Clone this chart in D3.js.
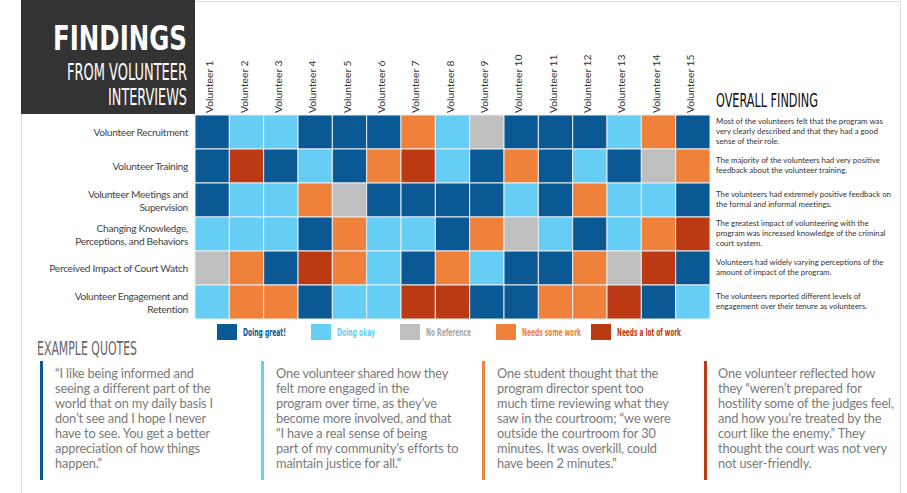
<!DOCTYPE html>
<html><head><meta charset="utf-8">
<script src="https://cdn.jsdelivr.net/npm/d3@7"></script>
<style>body{margin:0;background:#fff}svg{display:block}</style>
</head><body><svg id="c" width="907" height="493"></svg>
<script>
const volunteers = ["Volunteer 1","Volunteer 2","Volunteer 3","Volunteer 4","Volunteer 5","Volunteer 6","Volunteer 7","Volunteer 8","Volunteer 9","Volunteer 10","Volunteer 11","Volunteer 12","Volunteer 13","Volunteer 14","Volunteer 15"];
const categories = ["Volunteer Recruitment","Volunteer Training","Volunteer Meetings and Supervision","Changing Knowledge, Perceptions, and Behaviors","Perceived Impact of Court Watch","Volunteer Engagement and Retention"];
const categoryLines = [["Volunteer Recruitment"],["Volunteer Training"],["Volunteer Meetings and","Supervision"],["Changing Knowledge,","Perceptions, and Behaviors"],["Perceived Impact of Court Watch"],["Volunteer Engagement and","Retention"]];
const levels = ["Doing great!","Doing okay","No Reference","Needs some work","Needs a lot of work"];
const levelColors = ["#0a5894","#66cef5","#bfbfbf","#f0813b","#bb3a14"];
const legendTextColors = ["#0a5894","#66cef5","#a8a8a8","#f0813b","#bb3a14"];
// 0 great, 1 okay, 2 no reference, 3 some work, 4 lot of work
const ratings = [
 [0,1,1,0,0,0,3,1,2,0,0,0,1,3,0],
 [0,4,0,1,0,3,4,1,0,3,0,1,0,2,3],
 [0,1,1,3,2,0,0,0,0,1,0,3,1,1,0],
 [1,1,1,0,3,1,1,0,3,2,1,0,1,3,4],
 [2,3,0,4,3,1,0,3,1,0,0,3,2,4,0],
 [1,3,3,0,1,1,4,4,0,0,3,3,4,0,1]
];
const findings = [
 ["Most of the volunteers felt that the program was","very clearly described and that they had a good","sense of their role."],
 ["The majority of the volunteers had very positive","feedback about the volunteer training."],
 ["The volunteers had extremely positive feedback on","the formal and informal meetings."],
 ["The greatest impact of volunteering with the","program was increased knowledge of the criminal","court system."],
 ["Volunteers had widely varying perceptions of the","amount of impact of the program."],
 ["The volunteers reported different levels of","engagement over their tenure as volunteers."]
];
const quotes = [
 ["\u201CI like being informed and","seeing a different part of the","world that on my daily basis I","don\u2019t see and I hope I never","have to see. You get a better","appreciation of how things","happen.\u201D"],
 ["One volunteer shared how they","felt more engaged in the","program over time, as they\u2019ve","become more involved, and that","\u201CI have a real sense of being","part of my community\u2019s efforts to","maintain justice for all.\u201D"],
 ["One student thought that the","program director spent too","much time reviewing what they","saw in the courtroom; \u201Cwe were","outside the courtroom for 30","minutes. It was overkill, could","have been 2 minutes.\u201D"],
 ["One volunteer reflected how","they \u201Cweren\u2019t prepared for","hostility some of the judges feel,","and how you\u2019re treated by the","court like the enemy.\u201D They","thought the court was not very","not user-friendly."]
];
const quoteLevels = [0,1,3,4];

const svg = d3.select("#c");
const body = "Lato, 'Open Sans', sans-serif";
const cond = "'Liberation Sans Narrow', 'DejaVu Sans Condensed', sans-serif";

// frame
svg.append("rect").attr("x",21.5).attr("y",1.5).attr("width",879).attr("height",520)
  .attr("fill","none").attr("stroke","#dcdcdc");

// title box
svg.append("rect").attr("x",21).attr("y",0).attr("width",174).attr("height",114).attr("fill","#333333");
svg.append("text").attr("x",187).attr("y",50).attr("text-anchor","end").attr("fill","#fff")
  .style("font-family",cond).style("font-weight","bold").style("font-size","33px")
  .attr("textLength",134).attr("lengthAdjust","spacingAndGlyphs").text("FINDINGS");
svg.append("text").attr("x",187).attr("y",80).attr("text-anchor","end").attr("fill","#fff")
  .style("font-family",cond).style("font-size","23px")
  .attr("textLength",120).attr("lengthAdjust","spacingAndGlyphs").text("FROM VOLUNTEER");
svg.append("text").attr("x",187).attr("y",105).attr("text-anchor","end").attr("fill","#fff")
  .style("font-family",cond).style("font-size","23px")
  .attr("textLength",79).attr("lengthAdjust","spacingAndGlyphs").text("INTERVIEWS");

const x = d3.scaleBand().domain(volunteers).range([195,710]);
const y = d3.scaleBand().domain(categories).range([115,319]);
const color = d3.scaleOrdinal().domain(d3.range(levels.length)).range(levelColors);

// cells
const cells = [];
ratings.forEach((row,i)=>row.forEach((v,j)=>cells.push({c:categories[i],v:volunteers[j],r:v})));
svg.append("g").selectAll("rect").data(cells).join("rect")
  .attr("x",d=>x(d.v)).attr("y",d=>y(d.c))
  .attr("width",x.bandwidth()).attr("height",y.bandwidth())
  .attr("fill",d=>color(d.r)).attr("stroke","#e8eef2").attr("stroke-width",1);

// column axis
const xAxis = svg.append("g").attr("transform","translate(0,113)")
  .call(d3.axisTop(x).tickSize(0).tickSizeOuter(0));
xAxis.select(".domain").remove();
xAxis.selectAll(".tick line").remove();
xAxis.selectAll(".tick text")
  .attr("transform","rotate(-90)").attr("x",0).attr("y",0).attr("dx",0).attr("dy","0.1em")
  .attr("text-anchor","start").attr("fill","#333")
  .style("font-family",body).style("font-size","10.3px");

// row labels
const rowG = svg.append("g");
categoryLines.forEach((lines,i)=>{
  const cy = y(categories[i]) + y.bandwidth()/2;
  const n = lines.length;
  lines.forEach((ln,k)=>{
    rowG.append("text").attr("x",188).attr("y",cy - (n-1)*6.5 + k*13 + 4)
      .attr("text-anchor","end").attr("fill","#444")
      .style("font-family",body).style("font-size","10.2px").style("letter-spacing","-0.3px").text(ln);
  });
});

// overall findings
svg.append("text").attr("x",716).attr("y",107).attr("fill","#111")
  .style("font-family",cond).style("font-size","19px")
  .attr("textLength",102).attr("lengthAdjust","spacingAndGlyphs").text("OVERALL FINDING");
findings.forEach((lines,i)=>{
  const cy = y(categories[i]) + y.bandwidth()/2;
  const n = lines.length;
  lines.forEach((ln,k)=>{
    svg.append("text").attr("x",716).attr("y",cy - (n-1)*5 + k*10 + 1.5)
      .attr("fill","#333").style("font-family",body).style("font-size","7.85px").text(ln);
  });
});

// legend
const legX = [217,311,400,496,591];
const legW = [43,38,45,59,64];
levels.forEach((l,i)=>{
  svg.append("rect").attr("x",legX[i]).attr("y",324).attr("width",20).attr("height",16).attr("fill",levelColors[i]);
  svg.append("text").attr("x",legX[i]+26).attr("y",336).attr("fill",legendTextColors[i])
    .style("font-family",cond).style("font-weight","bold").style("font-size","11px")
    .attr("textLength",legW[i]).attr("lengthAdjust","spacingAndGlyphs").text(l);
});

// quotes
svg.append("text").attr("x",37).attr("y",355).attr("fill","#666")
  .style("font-family",cond).style("font-size","19px")
  .attr("textLength",100).attr("lengthAdjust","spacingAndGlyphs").text("EXAMPLE QUOTES");
const qBarX = [40,261,482,704];
const qTextX = [55,276,497,718];
quotes.forEach((lines,i)=>{
  svg.append("rect").attr("x",qBarX[i]).attr("y",361).attr("width",3).attr("height",119).attr("fill",levelColors[quoteLevels[i]]);
  lines.forEach((ln,k)=>{
    svg.append("text").attr("x",qTextX[i]).attr("y",378 + k*15)
      .attr("fill","#7a7a7a").style("font-family",body).style("font-size","12.8px").style("letter-spacing","-0.15px").text(ln);
  });
});
</script></body></html>
